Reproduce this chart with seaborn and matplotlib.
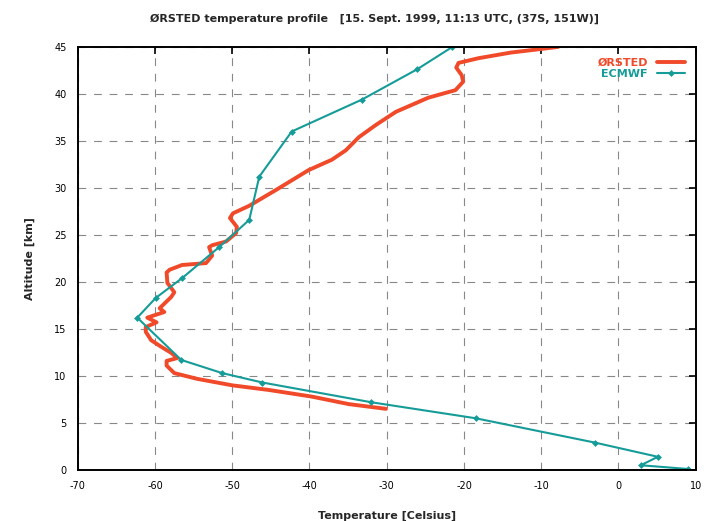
import matplotlib
matplotlib.use("Agg")
import matplotlib.pyplot as plt
import seaborn as sns
import pandas as pd

# ØRSTED profile (temperature °C, altitude km)
orsted_temp = [-30.1, -34.9, -39.7, -45.2, -50.0, -54.6, -57.5, -58.5, -58.5, -57.1,
               -57.9, -59.2, -60.5, -61.2, -61.2, -59.8, -61.0, -58.8, -59.4, -57.9,
               -57.5, -58.4, -58.5, -58.1, -56.5, -53.4, -52.6, -53.0, -52.6, -50.8,
               -49.5, -49.4, -50.3, -49.9, -47.8, -44.3, -40.1, -37.1, -35.3, -33.6,
               -31.4, -28.8, -24.6, -21.1, -20.1, -20.3, -21.0, -20.7, -18.1, -13.9,
               -10.8, -7.8]
orsted_alt = [6.5, 7.0, 7.8, 8.5, 9.0, 9.7, 10.3, 11.1, 11.6, 11.9,
              12.45, 13.1, 13.8, 14.7, 15.2, 15.7, 16.2, 16.8, 17.2, 18.4,
              18.9, 19.9, 21.0, 21.3, 21.8, 22.0, 22.8, 23.7, 23.9, 24.3,
              25.2, 25.85, 26.8, 27.3, 28.1, 29.8, 31.9, 33.0, 34.0, 35.4,
              36.7, 38.1, 39.6, 40.4, 41.3, 42.0, 42.8, 43.3, 43.8, 44.4,
              44.7, 45.0]

# ECMWF profile
ecmwf_temp = [9.0, 2.9, 5.1, -3.0, -18.5, -32.0, -46.1, -51.3, -56.6, -62.3,
              -59.9, -56.5, -51.7, -47.8, -46.5, -42.3, -33.2, -26.1, -21.5]
ecmwf_alt = [0.1, 0.5, 1.4, 2.9, 5.5, 7.2, 9.3, 10.3, 11.7, 16.2,
             18.3, 20.4, 23.7, 26.6, 31.2, 36.0, 39.4, 42.6, 45.0]

x_ticks = [-70, -60, -50, -40, -30, -20, -10, 0, 10]
y_ticks = [0, 5, 10, 15, 20, 25, 30, 35, 40, 45]

title = "ØRSTED temperature profile   [15. Sept. 1999, 11:13 UTC, (37S, 151W)]"

RED = "#f04a2a"
TEAL = "#169c98"

sns.set_theme(style="white")
plt.rcParams["font.family"] = ["DejaVu Sans"]

fig = plt.figure(figsize=(7.07, 5.21), dpi=100)
ax = fig.add_axes([0.110, 0.098, 0.874, 0.812])

df_o = pd.DataFrame({"T": orsted_temp, "alt": orsted_alt})
df_e = pd.DataFrame({"T": ecmwf_temp, "alt": ecmwf_alt})

sns.lineplot(data=df_o, x="T", y="alt", sort=False, estimator=None, ax=ax,
             color=RED, linewidth=2.8, label="ØRSTED")
sns.lineplot(data=df_e, x="T", y="alt", sort=False, estimator=None, ax=ax,
             color=TEAL, linewidth=1.5, marker="D", markersize=3.5,
             markeredgewidth=0, label="ECMWF")

ax.set_xlim(-70, 10)
ax.set_ylim(0, 45)
ax.set_xticks(x_ticks)
ax.set_yticks(y_ticks)
ax.set_xticklabels([str(v) for v in x_ticks], fontsize=7)
ax.set_yticklabels([str(v) for v in y_ticks], fontsize=7)
ax.tick_params(direction="in", length=5, width=1.2, top=True, right=True,
               colors="black", pad=8)
ax.grid(True, linestyle=(0, (7, 7)), color="#888888", linewidth=0.8)
for s in ax.spines.values():
    s.set_visible(True)
    s.set_color("black")
    s.set_linewidth(1.4)

ax.set_xlabel("Temperature [Celsius]", fontsize=8, fontweight="bold", labelpad=14)
ax.set_ylabel("Altitude [km]", fontsize=8, fontweight="bold", labelpad=14)
fig.suptitle(title, fontsize=8, fontweight="bold", y=0.975, x=0.53)

leg = ax.legend(loc="upper right", frameon=False, markerfirst=False,
                fontsize=8, handlelength=2.5, borderaxespad=0.6,
                labelspacing=0.1, labelcolor="linecolor")
for t in leg.get_texts():
    t.set_fontweight("bold")

fig.savefig("out.png", dpi=100, facecolor="white")
